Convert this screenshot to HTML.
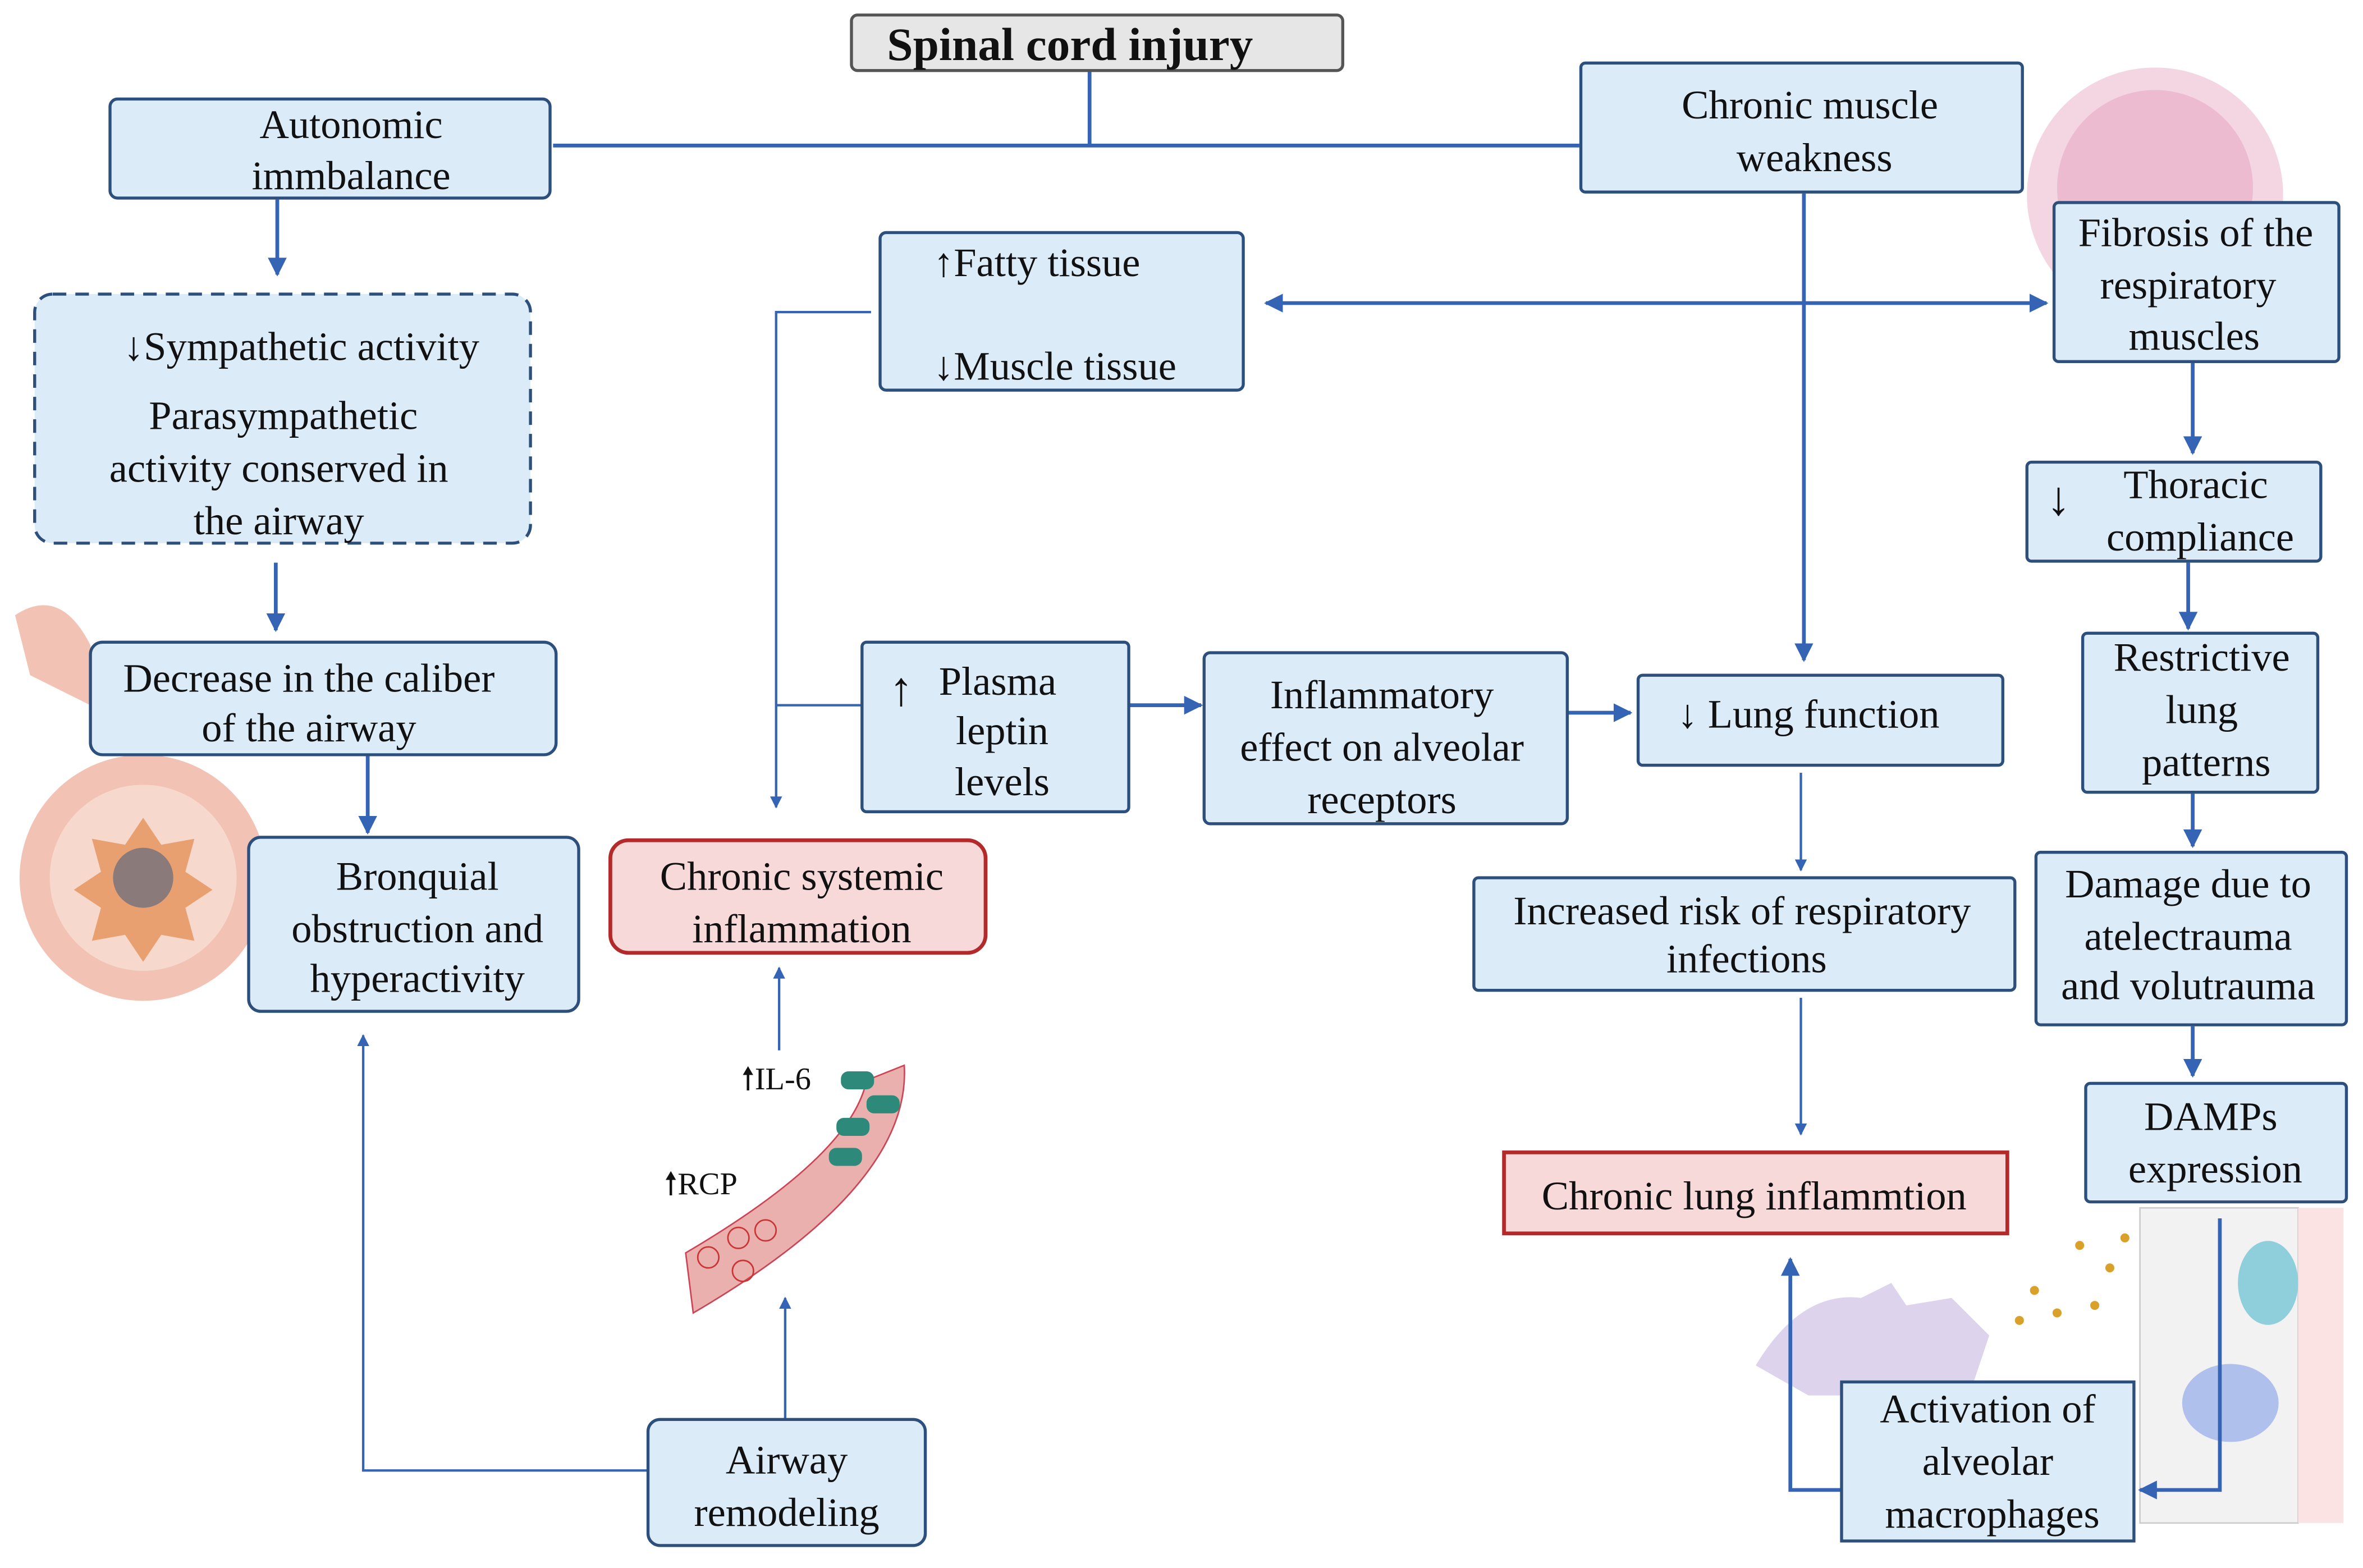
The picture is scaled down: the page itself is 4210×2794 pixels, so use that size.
<!DOCTYPE html>
<html><head><meta charset="utf-8"><style>
html,body{margin:0;padding:0;background:#fff;}
svg{display:block;}
text{font-family:"Liberation Serif",serif;font-size:27px;fill:#111;text-anchor:middle;}
.b{fill:#dcebf8;stroke:#2c4f7c;stroke-width:2;}
.p{fill:#f8d9d9;stroke:#b42a2a;stroke-width:2.5;}
.l{stroke:#3564b4;stroke-width:2.5;fill:none;}
.t{stroke:#3564b4;stroke-width:1.6;fill:none;}
</style></head><body>
<svg width="4210" height="2794" viewBox="0 0 1568 1045" preserveAspectRatio="none" xmlns="http://www.w3.org/2000/svg">
<defs>
<marker id="a" viewBox="0 0 10 10" refX="9" refY="5" markerWidth="5" markerHeight="5" orient="auto-start-reverse"><path d="M0,0L10,5L0,10z" fill="#3564b4"/></marker>
</defs>
<!-- decorations -->
<circle cx="1430" cy="130" r="85" fill="#f3d6e2"/>
<circle cx="1430" cy="125" r="65" fill="#e9a9c3" opacity="0.6"/>
<circle cx="95" cy="585" r="82" fill="#f2c2b4"/>
<circle cx="95" cy="585" r="62" fill="#f6d9cc"/>
<path d="M95,545 l12,18 22,-4 -6,22 18,12 -18,12 6,22 -22,-4 -12,18 -12,-18 -22,4 6,-22 -18,-12 18,-12 -6,-22 22,4z" fill="#e9a070"/>
<circle cx="95" cy="585" r="20" fill="#8a7a7a"/>
<path d="M10,410 q30,-20 50,20 l0,40 -40,-20z" fill="#f2c2b4"/>
<path d="M600,710 q5,80 -140,165 l-5,-40 q110,-65 120,-115z" fill="#eab0ae" stroke="#c45" stroke-width="1"/>
<rect x="558" y="714" width="22" height="12" rx="5" fill="#2d8a7a"/><rect x="575" y="730" width="22" height="12" rx="5" fill="#2d8a7a"/><rect x="555" y="745" width="22" height="12" rx="5" fill="#2d8a7a"/><rect x="550" y="765" width="22" height="12" rx="5" fill="#2d8a7a"/>
<circle cx="490" cy="825" r="7" fill="none" stroke="#c33"/><circle cx="508" cy="820" r="7" fill="none" stroke="#c33"/><circle cx="470" cy="838" r="7" fill="none" stroke="#c33"/><circle cx="493" cy="847" r="7" fill="none" stroke="#c33"/>
<path d="M1165,910 q30,-50 70,-45 l20,-10 10,15 30,-5 25,25 -10,30 -60,10 -50,0 z" fill="#ddd3ec"/>
<rect x="1420" y="805" width="105" height="210" fill="#f2f2f2" stroke="#ccc"/>
<rect x="1525" y="805" width="30" height="210" fill="#fbe3e3"/>
<ellipse cx="1505" cy="855" rx="20" ry="28" fill="#8fcfdc"/>
<ellipse cx="1480" cy="935" rx="32" ry="26" fill="#b0c0ec"/>
<g fill="#d9a12a"><circle cx="1380" cy="830" r="3"/><circle cx="1400" cy="845" r="3"/><circle cx="1350" cy="860" r="3"/><circle cx="1390" cy="870" r="3"/><circle cx="1340" cy="880" r="3"/><circle cx="1410" cy="825" r="3"/><circle cx="1365" cy="875" r="3"/></g>
<!-- connectors -->
<path class="l" d="M723,47V97M367,97H1048"/>
<path class="l" d="M184,133V183" marker-end="url(#a)"/>
<path class="l" d="M183,375V420" marker-end="url(#a)"/>
<path class="l" d="M244,504V555" marker-end="url(#a)"/>
<path class="t" d="M430,980H241V690" marker-end="url(#a)"/>
<path class="t" d="M521,946V865" marker-end="url(#a)"/>
<path class="t" d="M517,700V645" marker-end="url(#a)"/>
<path class="t" d="M578,208H515V538" marker-end="url(#a)"/>
<path class="t" d="M515,470H572"/>
<path class="l" d="M749,470H797" marker-end="url(#a)"/>
<path class="l" d="M1040,475H1082" marker-end="url(#a)"/>
<path class="l" d="M1197,129V440" marker-end="url(#a)"/>
<path class="l" d="M840,202H1358" marker-start="url(#a)" marker-end="url(#a)"/>
<path class="l" d="M1455,242V302" marker-end="url(#a)"/>
<path class="l" d="M1452,375V419" marker-end="url(#a)"/>
<path class="l" d="M1455,529V564" marker-end="url(#a)"/>
<path class="l" d="M1455,684V717" marker-end="url(#a)"/>
<path class="l" d="M1473,812V993H1420" marker-end="url(#a)"/>
<path class="l" d="M1222,993H1188V839" marker-end="url(#a)"/>
<path class="t" d="M1195,515V580" marker-end="url(#a)"/>
<path class="t" d="M1195,665V756" marker-end="url(#a)"/>
<!-- boxes -->
<rect x="565" y="10" width="326" height="37" rx="4" fill="#e6e6e6" stroke="#555" stroke-width="2"/>
<text x="710" y="40" style="font-weight:bold;font-size:31px">Spinal cord injury</text>
<rect class="b" x="73" y="66" width="292" height="66" rx="5"/>
<text x="233" y="92">Autonomic</text><text x="233" y="126">immbalance</text>
<rect class="b" x="23" y="196" width="329" height="166" rx="12" stroke-dasharray="9,6"/>
<text x="200" y="240">↓Sympathetic activity</text>
<text x="188" y="286">Parasympathetic</text><text x="185" y="321">activity conserved in</text><text x="185" y="356">the airway</text>
<rect class="b" x="60" y="428" width="309" height="75" rx="8"/>
<text x="205" y="461">Decrease in the caliber</text><text x="205" y="494">of the airway</text>
<rect class="b" x="165" y="558" width="219" height="116" rx="8"/>
<text x="277" y="593">Bronquial</text><text x="277" y="628">obstruction and</text><text x="277" y="661">hyperactivity</text>
<rect class="b" x="430" y="946" width="184" height="84" rx="8"/>
<text x="522" y="982">Airway</text><text x="522" y="1017">remodeling</text>
<rect class="p" x="405" y="560" width="249" height="75" rx="12"/>
<text x="532" y="593">Chronic systemic</text><text x="532" y="628">inflammation</text>
<text x="515" y="726" style="font-size:21px">🠕IL-6</text>
<text x="465" y="796" style="font-size:21px">🠕RCP</text>
<rect class="b" x="584" y="155" width="241" height="105" rx="4"/>
<text x="688" y="184">↑Fatty tissue</text><text x="700" y="253">↓Muscle tissue</text>
<rect class="b" x="572" y="428" width="177" height="113" rx="3"/>
<text x="598" y="470" style="font-size:32px">↑</text>
<text x="662" y="463">Plasma</text><text x="665" y="496">leptin</text><text x="665" y="530">levels</text>
<rect class="b" x="799" y="435" width="241" height="114" rx="4"/>
<text x="917" y="472">Inflammatory</text><text x="917" y="507">effect on alveolar</text><text x="917" y="542">receptors</text>
<rect class="b" x="1087" y="450" width="242" height="60" rx="3"/>
<text x="1200" y="485">↓ Lung function</text>
<rect class="b" x="1049" y="42" width="293" height="86" rx="3"/>
<text x="1201" y="79">Chronic muscle</text><text x="1204" y="114">weakness</text>
<rect class="b" x="1363" y="135" width="189" height="106" rx="3"/>
<text x="1457" y="164">Fibrosis of the</text><text x="1452" y="199">respiratory</text><text x="1456" y="233">muscles</text>
<rect class="b" x="1345" y="308" width="195" height="66" rx="3"/>
<text x="1366" y="343" style="font-size:32px">↓</text>
<text x="1457" y="332">Thoracic</text><text x="1460" y="367">compliance</text>
<rect class="b" x="1382" y="422" width="156" height="106" rx="3"/>
<text x="1461" y="447">Restrictive</text><text x="1461" y="482">lung</text><text x="1464" y="517">patterns</text>
<rect class="b" x="1351" y="568" width="206" height="115" rx="3"/>
<text x="1452" y="598">Damage due to</text><text x="1452" y="633">atelectrauma</text><text x="1452" y="666">and volutrauma</text>
<rect class="b" x="1384" y="722" width="173" height="79" rx="3"/>
<text x="1467" y="753">DAMPs</text><text x="1470" y="788">expression</text>
<rect class="b" x="978" y="585" width="359" height="75" rx="3"/>
<text x="1156" y="616">Increased risk of respiratory</text><text x="1159" y="648">infections</text>
<rect class="p" x="998" y="768" width="334" height="54"/>
<text x="1164" y="806">Chronic lung inflammtion</text>
<rect class="b" x="1222" y="921" width="194" height="106"/>
<text x="1319" y="948">Activation of</text><text x="1319" y="983">alveolar</text><text x="1322" y="1018">macrophages</text>
</svg>
</body></html>
